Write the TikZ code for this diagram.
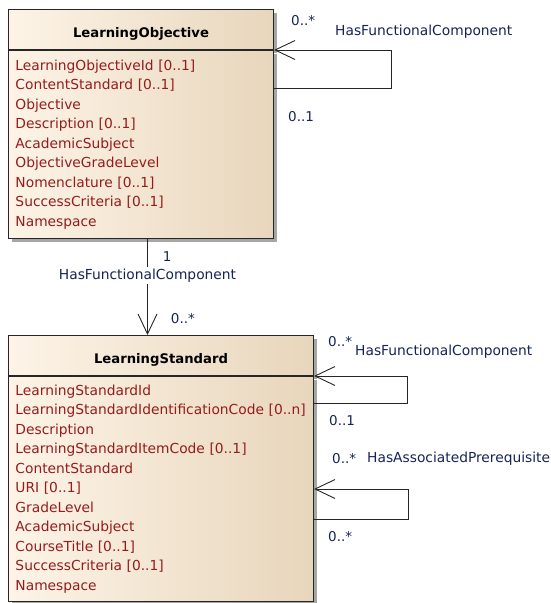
\documentclass[tikz,border=0pt]{standalone}
\usepackage{fontspec}
\setmainfont{DejaVu Sans}
\usepackage{xcolor}
\usetikzlibrary{calc,positioning,arrows,shadows}
\usetikzlibrary{arrows.meta}
\tikzset{>={Straight Barb[width=19pt,length=20pt]}}

\definecolor{boxlight}{RGB}{253,244,231}
\definecolor{boxdark}{RGB}{232,214,188}
\definecolor{attrred}{RGB}{150,28,28}
\definecolor{linkblue}{RGB}{22,35,88}

\tikzset{
  classbox/.style={draw=black!85, line width=1pt, left color=boxlight, right color=boxdark,
    drop shadow={shadow xshift=3pt,shadow yshift=-3pt,fill=black!35,opacity=1}},
  classhead/.style={classbox, minimum height=40pt, anchor=north west, text height=15pt, text depth=0pt,
    font=\fontsize{13.2pt}{16pt}\selectfont\bfseries},
  classbody/.style={classbox, align=left, inner xsep=7pt, text=attrred,
    font=\fontsize{13.8pt}{19.5pt}\selectfont},
  mult/.style={text=linkblue, inner sep=1pt, anchor=west, font=\fontsize{13.5pt}{16pt}\selectfont},
  linkname/.style={text=linkblue, inner sep=1pt, anchor=west, font=\fontsize{13.8pt}{16pt}\selectfont},
  assoc/.style={->, line width=0.9pt, black!85}
}

\begin{document}
\begin{tikzpicture}[x=1pt,y=-1pt]
        \useasboundingbox (0,0) rectangle (551,603);
        % classes
        \node[classhead, minimum width=265pt] (loHead) at (8,9) {LearningObjective};
        \node[classbody, below=0pt of loHead, minimum width=265pt, text width=251pt, minimum height=188pt] (loBody)
            {LearningObjectiveId [0..1]\\ContentStandard [0..1]\\Objective\\Description [0..1]\\AcademicSubject\\ObjectiveGradeLevel\\Nomenclature [0..1]\\SuccessCriteria [0..1]\\Namespace};
        \node[classhead, minimum width=305pt] (lsHead) at (8,335) {LearningStandard};
        \node[classbody, below=0pt of lsHead, minimum width=305pt, text width=291pt, minimum height=225pt] (lsBody)
            {LearningStandardId\\LearningStandardIdentificationCode [0..n]\\Description\\LearningStandardItemCode [0..1]\\ContentStandard\\URI [0..1]\\GradeLevel\\AcademicSubject\\CourseTitle [0..1]\\SuccessCriteria [0..1]\\Namespace};
        % LearningObjective -> LearningObjective
        \draw[assoc] ([yshift=-38pt]loHead.south east) -- ++(117,0) |- (loHead.south east);
        \node[mult] (loSelfTo) at ([shift={(16,-29)}]loHead.south east) {0..*};
        \node[linkname] (loSelfName) at ([shift={(60,-18)}]loHead.south east) {HasFunctionalComponent};
        \node[mult] (loSelfFrom) at ([shift={(13,67)}]loHead.south east) {0..1};
        % LearningObjective -> LearningStandard
        \coordinate (loDown) at ([xshift=6.5pt]loBody.south);
        \draw[assoc] (loDown) -- node[mult,pos=.18,xshift=14pt] (loOne) {1}
            node[pos=.38,fill=white,text=linkblue,inner sep=2pt,font=\fontsize{13.8pt}{16pt}\selectfont] (loLsName) {HasFunctionalComponent}
            node[mult,pos=.83,xshift=22pt] (lsMany) {0..*} (loDown |- lsHead.north);
        % LearningStandard -> LearningStandard
        \draw[assoc] ([yshift=-27pt]lsHead.south east) -- ++(93,0) |- (lsHead.south east);
        \node[mult] (lsSelfTo) at ([shift={(13,-34)}]lsHead.south east) {0..*};
        \node[linkname] (lsSelfName) at ([shift={(40,-24)}]lsHead.south east) {HasFunctionalComponent};
        \node[mult] (lsSelfFrom) at ([shift={(14,45)}]lsHead.south east) {0..1};
        \draw[assoc] ([yshift=-30pt]lsBody.east) -- ++(94,0) |- (lsBody.east);
        \node[mult] (lsPreTo) at ([shift={(17,-30)}]lsBody.east) {0..*};
        \node[linkname] (lsPreName) at ([shift={(52,-30)}]lsBody.east) {HasAssociatedPrerequisite};
        \node[mult] (lsPreFrom) at ([shift={(13,48)}]lsBody.east) {0..*};
    \end{tikzpicture}
\end{document}
